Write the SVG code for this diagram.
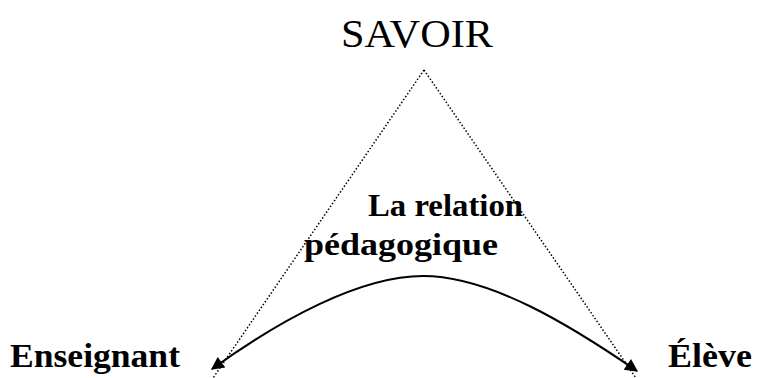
<svg xmlns="http://www.w3.org/2000/svg" width="757" height="378" viewBox="0 0 757 378">
  <style>
    .t { font-family: "Liberation Serif", "DejaVu Serif", serif; fill: #000; }
    .b { font-weight: bold; }
    .dot { fill: none; stroke: #000; stroke-width: 1.5; stroke-dasharray: 1.5 2; }
    .arc { fill: none; stroke: #000; stroke-width: 2; }
  </style>
  <defs>
    <marker id="ah" viewBox="0 0 10 10" refX="9" refY="5" markerWidth="15" markerHeight="13" markerUnits="userSpaceOnUse" orient="auto-start-reverse">
      <path d="M0,0 L10,5 L0,10 Z" fill="#000"/>
    </marker>
  </defs>
  <rect width="757" height="378" fill="#fff"/>
  <g id="connectors">
    <path class="dot" d="M424,70 L213,378"/>
    <path class="dot" d="M424,70 L636,378"/>
    <path class="arc" d="M212,369 C280,320 360,276 423,276 C490,276 570,325 637,371" marker-start="url(#ah)" marker-end="url(#ah)"/>
  </g>
  <g id="savoir"><text class="t" x="417" y="47" font-size="41" text-anchor="middle" textLength="152" lengthAdjust="spacingAndGlyphs">SAVOIR</text></g>
  <g id="relation">
    <text class="t b" x="368" y="216" font-size="32" textLength="155" lengthAdjust="spacingAndGlyphs">La relation</text>
    <text class="t b" x="304" y="255" font-size="32" textLength="194" lengthAdjust="spacingAndGlyphs">pédagogique</text>
  </g>
  <g id="enseignant"><text class="t b" x="10" y="367" font-size="33" textLength="170" lengthAdjust="spacingAndGlyphs">Enseignant</text></g>
  <g id="eleve"><text class="t b" x="668" y="367" font-size="33" textLength="84" lengthAdjust="spacingAndGlyphs">Élève</text></g>
</svg>
